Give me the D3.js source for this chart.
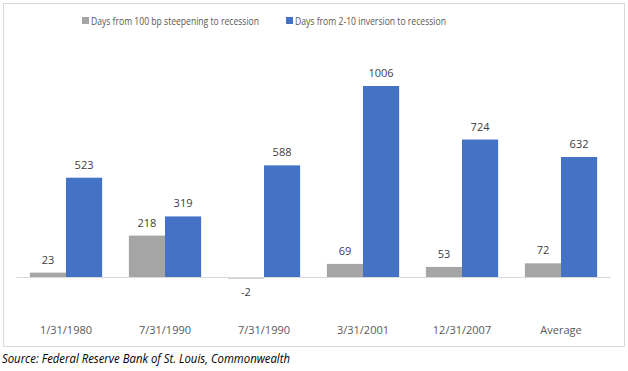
<!DOCTYPE html>
<html>
<head>
<meta charset="utf-8">
<script src="https://cdn.jsdelivr.net/npm/d3@7"></script>
<style>
  body { margin: 0; background: #fff; }
  text { font-family: "Open Sans", "Liberation Sans", sans-serif; }
</style>
</head>
<body>
<div id="chart"></div>
<script>
var categories = ['1/31/1980', '7/31/1990', '7/31/1990', '3/31/2001', '12/31/2007', 'Average'];
var steepening = [23, 218, -2, 69, 53, 72];
var inversion = [523, 319, 588, 1006, 724, 632];
var seriesNames = ['Days from 100 bp steepening to recession', 'Days from 2-10 inversion to recession'];
var seriesColors = ['#a5a5a5', '#4472c4'];

var width = 628, height = 371;

var svg = d3.select('#chart')
  .append('svg')
  .attr('width', width)
  .attr('height', height);

// chart frame
svg.append('rect')
  .attr('x', 3.5).attr('y', 3.5)
  .attr('width', 621).attr('height', 343)
  .attr('fill', '#fff')
  .attr('stroke', '#d9d9d9');

var x = d3.scaleBand()
  .domain(d3.range(categories.length))
  .range([16.5, 610.5])
  .paddingInner(0.27)
  .paddingOuter(0.135);

var x1 = d3.scaleBand()
  .domain([0, 1])
  .range([0, x.bandwidth()]);

var y = d3.scaleLinear()
  .domain([0, 1006])
  .range([277, 86]);

var groups = svg.selectAll('.grp')
  .data(categories)
  .enter()
  .append('g')
  .attr('class', 'grp')
  .attr('transform', function(d, i) { return `translate(${x(i)},0)`; });

var bars = groups.selectAll('rect')
  .data(function(d, i) { return [steepening[i], inversion[i]]; })
  .enter();

// tiny values still get a visible sliver, as in the original
bars.append('rect')
  .attr('x', function(d, j) { return x1(j); })
  .attr('y', function(d) { return d >= 0 ? y(d) : y(0); })
  .attr('width', x1.bandwidth())
  .attr('height', function(d) { return Math.max(1.5, Math.abs(y(d) - y(0))); })
  .attr('fill', function(d, j) { return seriesColors[j]; });

bars.append('text')
  .attr('x', function(d, j) { return x1(j) + x1.bandwidth() / 2; })
  .attr('y', function(d) { return d >= 0 ? y(d) - 9 : y(d) + 19; })
  .attr('text-anchor', 'middle')
  .attr('font-size', 11)
  .attr('fill', '#404040')
  .text(function(d) { return d; });

// baseline
svg.append('line')
  .attr('x1', 16.5).attr('x2', 610.5)
  .attr('y1', y(0) + 0.5).attr('y2', y(0) + 0.5)
  .attr('stroke', '#d9d9d9');

// category labels
svg.selectAll('.cat')
  .data(categories)
  .enter()
  .append('text')
  .attr('class', 'cat')
  .attr('x', function(d, i) { return x(i) + x.bandwidth() / 2; })
  .attr('y', 334)
  .attr('text-anchor', 'middle')
  .attr('font-size', 11)
  .attr('fill', '#595959')
  .text(function(d) { return d; });

// legend
var legendX = [82, 286];
var legendW = [168, 151];
var legend = svg.selectAll('.leg')
  .data(seriesNames)
  .enter()
  .append('g')
  .attr('class', 'leg')
  .attr('transform', function(d, i) { return `translate(${legendX[i]},16)`; });

legend.append('rect')
  .attr('width', 7).attr('height', 7)
  .attr('y', 1)
  .attr('fill', function(d, i) { return seriesColors[i]; });

legend.append('text')
  .attr('x', 9)
  .attr('y', 9)
  .attr('font-size', 11)
  .attr('textLength', function(d, i) { return legendW[i]; })
  .attr('lengthAdjust', 'spacingAndGlyphs')
  .attr('fill', '#595959')
  .text(function(d) { return d; });

// source
svg.append('text')
  .attr('x', 2)
  .attr('y', 363)
  .attr('font-size', 13)
  .attr('font-style', 'italic')
  .attr('textLength', 288)
  .attr('lengthAdjust', 'spacingAndGlyphs')
  .attr('fill', '#000')
  .text('Source: Federal Reserve Bank of St. Louis, Commonwealth');
</script>
</body>
</html>
